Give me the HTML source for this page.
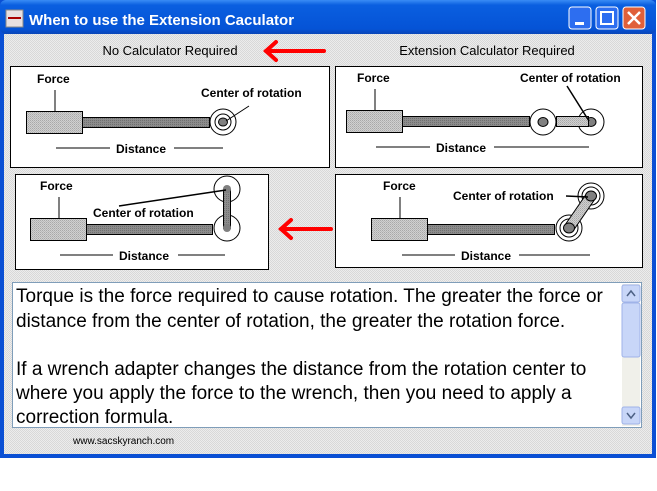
<!DOCTYPE html>
<html><head><meta charset="utf-8"><style>
body{margin:0;width:657px;height:486px;background:#fff;overflow:hidden;font-family:"Liberation Sans",Arial,sans-serif}
</style></head><body>
<svg width="657" height="486" xmlns="http://www.w3.org/2000/svg" font-family="Liberation Sans, Arial, sans-serif">
<defs>
<linearGradient id="tb" x1="0" y1="0" x2="0" y2="1"><stop offset="0" stop-color="#3a8cf5"/><stop offset="0.15" stop-color="#0a5fe0"/><stop offset="0.85" stop-color="#0553d6"/><stop offset="1" stop-color="#0a46b8"/></linearGradient>
<pattern id="chk" width="2" height="2" patternUnits="userSpaceOnUse"><rect width="2" height="2" fill="#ececec"/><rect width="1" height="1" fill="#d8d8d8"/><rect x="1" y="1" width="1" height="1" fill="#d8d8d8"/></pattern>
<pattern id="lt" width="2" height="2" patternUnits="userSpaceOnUse"><rect width="2" height="2" fill="#d0d0d0"/><rect width="1" height="1" fill="#a8a8a8"/><rect x="1" y="1" width="1" height="1" fill="#b8b8b8"/></pattern>
<pattern id="dk" width="2" height="2" patternUnits="userSpaceOnUse"><rect width="2" height="2" fill="#8c8c8c"/><rect width="1" height="1" fill="#707070"/></pattern>
</defs>
<rect x="0" y="0" width="656" height="458" fill="#0a4fd4"/>
<rect x="0" y="0" width="656" height="34" rx="6" fill="url(#tb)"/>
<rect x="4" y="34" width="648" height="420" fill="url(#chk)"/>
<rect x="6" y="10" width="17" height="17" fill="#e8e0e0" stroke="#888"/>
<line x1="8" y1="18" x2="21" y2="18" stroke="#a00" stroke-width="2"/>
<text x="29" y="25" fill="#fff" font-size="15" font-weight="bold">When to use the Extension Caculator</text>
<rect x="569" y="7" width="22" height="22" rx="3" fill="#2d6ef0" stroke="#fff"/>
<rect x="575" y="22" width="9" height="3" fill="#fff"/>
<rect x="596" y="7" width="22" height="22" rx="3" fill="#2d6ef0" stroke="#fff"/>
<rect x="601" y="12" width="12" height="12" fill="none" stroke="#fff" stroke-width="2"/>
<rect x="623" y="7" width="22" height="22" rx="3" fill="#e0603a" stroke="#fff"/>
<path d="M628 12 L640 24 M640 12 L628 24" stroke="#fff" stroke-width="2.5"/>
<text x="170" y="55" font-size="13" text-anchor="middle">No Calculator Required</text>
<text x="487" y="55" font-size="13" text-anchor="middle">Extension Calculator Required</text>
<g stroke="#f00" stroke-width="4" fill="none" stroke-linecap="round"><line x1="266" y1="51" x2="324" y2="51"/><path d="M276 42 L266 51 L276 60"/>
<line x1="281" y1="229" x2="331" y2="229"/><path d="M291 220 L281 229 L291 238"/></g>
<g fill="#fff" stroke="#000"><rect x="10.5" y="66.5" width="319" height="101"/><rect x="335.5" y="66.5" width="307" height="101"/><rect x="15.5" y="174.5" width="253" height="95"/><rect x="335.5" y="174.5" width="307" height="93"/></g>
<g font-size="12" font-weight="bold">
<text x="37" y="83">Force</text>
<line x1="55" y1="90" x2="55" y2="121" stroke="#000"/>
<rect x="26.5" y="111.5" width="56" height="22" fill="url(#lt)" stroke="#000"/>
<rect x="82.5" y="117.5" width="127" height="10" fill="url(#dk)" stroke="#000"/>
<circle cx="223" cy="122" r="13" fill="#fff" stroke="#000"/>
<circle cx="223" cy="122" r="8" fill="none" stroke="#000"/>
<ellipse cx="223" cy="122" rx="4.5" ry="4" fill="#808080" stroke="#000"/>
<line x1="249" y1="106" x2="226" y2="121" stroke="#000"/>
<text x="201" y="97">Center of rotation</text>
<line x1="56" y1="148" x2="110" y2="148" stroke="#000"/><line x1="174" y1="148" x2="223" y2="148" stroke="#000"/>
<text x="116" y="153">Distance</text>
<text x="357" y="82">Force</text>
<line x1="375" y1="89" x2="375" y2="120" stroke="#000"/>
<rect x="346.5" y="110.5" width="56" height="22" fill="url(#lt)" stroke="#000"/>
<rect x="402.5" y="116.5" width="127" height="10" fill="url(#dk)" stroke="#000"/>
<circle cx="543" cy="122" r="13" fill="#fff" stroke="#000"/>
<ellipse cx="543" cy="122" rx="5" ry="4.5" fill="#808080" stroke="#000"/>
<circle cx="591" cy="122" r="13" fill="#fff" stroke="#000"/>
<ellipse cx="591" cy="122" rx="5" ry="4.5" fill="#808080" stroke="#000"/>
<rect x="556.5" y="116.5" width="32" height="10" fill="url(#lt)" stroke="#000"/>
<line x1="567" y1="86" x2="589" y2="121" stroke="#000" stroke-width="1.5"/>
<text x="520" y="82">Center of rotation</text>
<line x1="376" y1="147" x2="430" y2="147" stroke="#000"/><line x1="494" y1="147" x2="589" y2="147" stroke="#000"/>
<text x="436" y="152">Distance</text>
<text x="40" y="190">Force</text>
<line x1="59" y1="197" x2="59" y2="229" stroke="#000"/>
<rect x="30.5" y="218.5" width="56" height="22" fill="url(#lt)" stroke="#000"/>
<rect x="86.5" y="224.5" width="126" height="10" fill="url(#dk)" stroke="#000"/>
<circle cx="227" cy="189" r="13" fill="#fff" stroke="#000"/>
<circle cx="227" cy="228" r="13" fill="#fff" stroke="#000"/>
<rect x="223.5" y="189.5" width="7" height="39" fill="url(#dk)" stroke="#000"/>
<circle cx="227" cy="189" r="4" fill="#808080"/><circle cx="227" cy="228" r="4" fill="#808080"/>
<line x1="119" y1="206" x2="226" y2="190" stroke="#000" stroke-width="1.5"/>
<text x="93" y="217">Center of rotation</text>
<line x1="60" y1="255" x2="113" y2="255" stroke="#000"/><line x1="178" y1="255" x2="225" y2="255" stroke="#000"/>
<text x="119" y="260">Distance</text>
<text x="383" y="190">Force</text>
<line x1="400" y1="197" x2="400" y2="229" stroke="#000"/>
<rect x="371.5" y="218.5" width="56" height="22" fill="url(#lt)" stroke="#000"/>
<rect x="427.5" y="224.5" width="127" height="10" fill="url(#dk)" stroke="#000"/>
<circle cx="569" cy="228" r="13" fill="#fff" stroke="#000"/>
<circle cx="569" cy="228" r="9" fill="none" stroke="#000"/>
<circle cx="591" cy="196" r="13" fill="#fff" stroke="#000"/>
<circle cx="591" cy="196" r="9" fill="none" stroke="#000"/>
<path d="M565 225 L587 193 L595 199 L573 231 Z" fill="url(#lt)" stroke="#000"/>
<ellipse cx="569" cy="228" rx="5.5" ry="5" fill="#808080" stroke="#000"/>
<ellipse cx="591" cy="196" rx="5.5" ry="5" fill="#808080" stroke="#000"/>
<line x1="566" y1="196" x2="588" y2="197" stroke="#000" stroke-width="1.5"/>
<text x="453" y="200">Center of rotation</text>
<line x1="402" y1="255" x2="455" y2="255" stroke="#000"/><line x1="519" y1="255" x2="590" y2="255" stroke="#000"/>
<text x="461" y="260">Distance</text>
</g>
<rect x="12.5" y="282.5" width="629" height="145" fill="#fff" stroke="#7f9db9"/>
<rect x="622" y="284" width="18" height="142" fill="#f0f0ea"/>
<rect x="622" y="285" width="18" height="17" rx="2" fill="#c8d6f8" stroke="#9fb3e8"/>
<path d="M627 296 L631 291 L635 296" stroke="#4d6185" stroke-width="1.5" fill="none"/>
<rect x="622" y="303" width="18" height="54" rx="2" fill="#c8d6f8" stroke="#9fb3e8"/>
<rect x="622" y="407" width="18" height="17" rx="2" fill="#c8d6f8" stroke="#9fb3e8"/>
<path d="M627 413 L631 418 L635 413" stroke="#4d6185" stroke-width="1.5" fill="none"/>
<g font-size="19" fill="#000">
<text x="16" y="302">Torque is the  force required to cause rotation. The greater the force or</text>
<text x="16" y="327">distance from the center of rotation, the greater the rotation force.</text>
<text x="16" y="375">If a wrench adapter changes the distance from the rotation center to</text>
<text x="16" y="399">where you apply the force to the wrench, then you need to apply a</text>
<text x="16" y="423">correction formula.</text>
</g>
<text x="73" y="444" font-size="10">www.sacskyranch.com</text>
</svg>
</body></html>
